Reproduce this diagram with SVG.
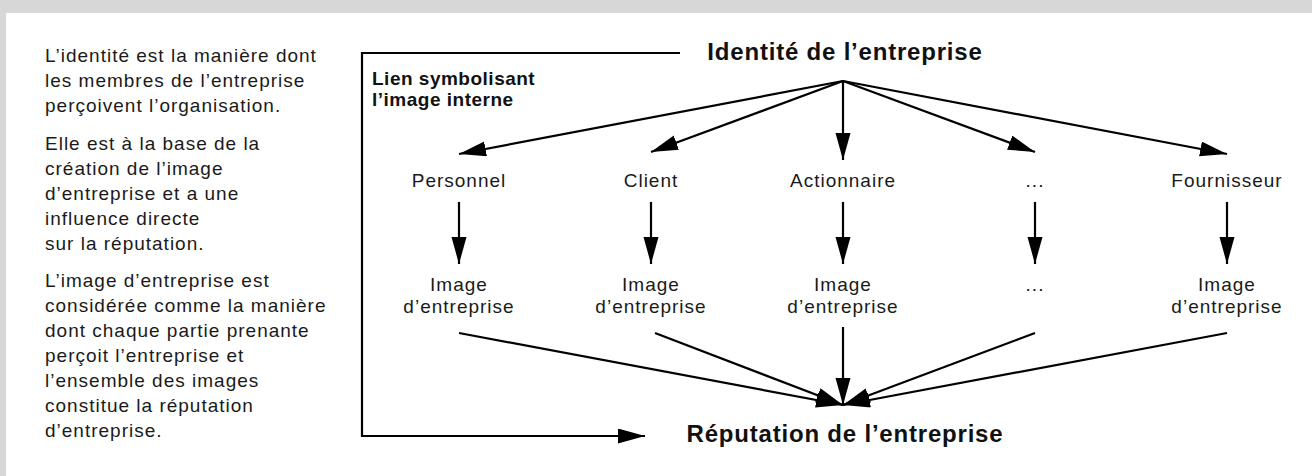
<svg xmlns="http://www.w3.org/2000/svg" width="1312" height="476" viewBox="0 0 1312 476">
<style>
.t{font-family:"Liberation Sans",Arial,sans-serif;font-size:19px;letter-spacing:1px;fill:#1a1a1a}
.c{text-anchor:middle}
.b{font-family:"Liberation Sans",Arial,sans-serif;font-weight:bold;fill:#111}
.h{font-size:24px;letter-spacing:0.8px;text-anchor:middle}
.l{font-size:19px;letter-spacing:0.5px}
.ln{stroke:#000;stroke-width:2.2;fill:none}
</style>
<defs>
<marker id="ah" markerUnits="userSpaceOnUse" markerWidth="28" markerHeight="16" refX="27" refY="7.5" orient="auto">
<path d="M0,0 L27,7.5 L0,15 z" fill="#000"/>
</marker>
</defs>
<rect x="0" y="0" width="1312" height="476" fill="#d6d7d6"/>
<rect x="6" y="13" width="1306" height="463" fill="#fff"/>
<g id="explanation">
<text class="t" x="45" y="62">L’identité est la manière dont</text>
<text class="t" x="45" y="87">les membres de l’entreprise</text>
<text class="t" x="45" y="112">perçoivent l’organisation.</text>
<text class="t" x="45" y="149.5">Elle est à la base de la</text>
<text class="t" x="45" y="174.5">création de l’image</text>
<text class="t" x="45" y="199.5">d’entreprise et a une</text>
<text class="t" x="45" y="224.5">influence directe</text>
<text class="t" x="45" y="249.5">sur la réputation.</text>
<text class="t" x="45" y="287">L’image d’entreprise est</text>
<text class="t" x="45" y="312">considérée comme la manière</text>
<text class="t" x="45" y="337">dont chaque partie prenante</text>
<text class="t" x="45" y="362">perçoit l’entreprise et</text>
<text class="t" x="45" y="387">l’ensemble des images</text>
<text class="t" x="45" y="412">constitue la réputation</text>
<text class="t" x="45" y="437">d’entreprise.</text>
</g>
<g id="identite"><text class="b h" x="845" y="60">Identité de l’entreprise</text></g>
<g id="reputation"><text class="b h" x="845" y="442">Réputation de l’entreprise</text></g>
<g id="lien-label">
<text class="b l" x="372" y="85">Lien symbolisant</text>
<text class="b l" x="372" y="106">l’image interne</text>
</g>
<g id="personnel"><text class="t c" x="459" y="187">Personnel</text></g>
<g id="client"><text class="t c" x="651" y="187">Client</text></g>
<g id="actionnaire"><text class="t c" x="843" y="187">Actionnaire</text></g>
<g id="autre"><text class="t c" x="1035" y="187">...</text></g>
<g id="fournisseur"><text class="t c" x="1227" y="187">Fournisseur</text></g>
<g id="image-personnel"><text class="t c" x="459" y="291">Image</text><text class="t c" x="459" y="313">d’entreprise</text></g>
<g id="image-client"><text class="t c" x="651" y="291">Image</text><text class="t c" x="651" y="313">d’entreprise</text></g>
<g id="image-actionnaire"><text class="t c" x="843" y="291">Image</text><text class="t c" x="843" y="313">d’entreprise</text></g>
<g id="image-autre"><text class="t c" x="1035" y="291">...</text></g>
<g id="image-fournisseur"><text class="t c" x="1227" y="291">Image</text><text class="t c" x="1227" y="313">d’entreprise</text></g>
<g id="connectors">
<path class="ln" d="M680,53 H362 V436 H645" marker-end="url(#ah)"/>
<line class="ln" x1="843" y1="81" x2="459" y2="154" marker-end="url(#ah)"/>
<line class="ln" x1="843" y1="81" x2="651" y2="152" marker-end="url(#ah)"/>
<line class="ln" x1="843" y1="81" x2="843" y2="160" marker-end="url(#ah)"/>
<line class="ln" x1="843" y1="81" x2="1035" y2="152" marker-end="url(#ah)"/>
<line class="ln" x1="843" y1="81" x2="1227" y2="154" marker-end="url(#ah)"/>
<line class="ln" x1="459" y1="202" x2="459" y2="264" marker-end="url(#ah)"/>
<line class="ln" x1="651" y1="202" x2="651" y2="264" marker-end="url(#ah)"/>
<line class="ln" x1="843" y1="202" x2="843" y2="264" marker-end="url(#ah)"/>
<line class="ln" x1="1035" y1="202" x2="1035" y2="264" marker-end="url(#ah)"/>
<line class="ln" x1="1227" y1="202" x2="1227" y2="264" marker-end="url(#ah)"/>
<line class="ln" x1="459" y1="333" x2="843" y2="405" marker-end="url(#ah)"/>
<line class="ln" x1="655" y1="333" x2="843" y2="405" marker-end="url(#ah)"/>
<line class="ln" x1="843" y1="327" x2="843" y2="405" marker-end="url(#ah)"/>
<line class="ln" x1="1035" y1="333" x2="843" y2="405" marker-end="url(#ah)"/>
<line class="ln" x1="1227" y1="333" x2="843" y2="405" marker-end="url(#ah)"/>
</g>
</svg>
